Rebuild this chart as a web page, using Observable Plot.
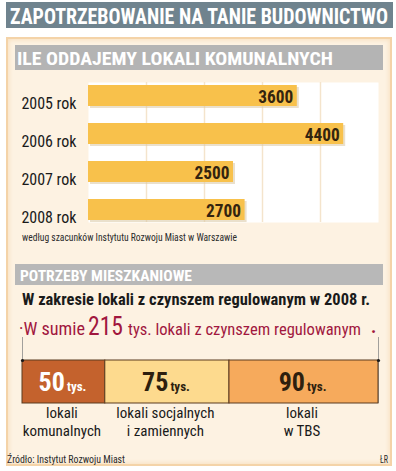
<!DOCTYPE html>
<html><head><meta charset="utf-8">
<script src="https://cdn.jsdelivr.net/npm/d3@7"></script>
<script src="https://cdn.jsdelivr.net/npm/@observablehq/plot@0.6"></script>
<style>
body{margin:0;background:#fff;}
#root{position:relative;width:396px;height:471px;overflow:hidden;}
.box{position:absolute;}
.plot{position:absolute;left:0;}
</style></head><body><div id="root"></div>
<script>
// ---- data ----
const years = ["2005 rok", "2006 rok", "2007 rok", "2008 rok"];
const built = [3600, 4400, 2500, 2700];
const gridTicks = [1000, 2000, 3000, 4000];
const needLine1 = ["lokali", "lokali socjalnych", "lokali"];
const needLine2 = ["komunalnych", "i zamiennych", "w TBS"];
const needs = [50, 75, 90];
const needTotal = 215;
const needFill = ["#c4622d", "#fdda8e", "#f6aa5c"];
const needInk = ["#ffffff", "#2e1f0e", "#2e1f0e"];

const root = document.getElementById("root");

// pick a narrow font if one is installed
function measure(family, s) {
  const c = document.createElement("canvas").getContext("2d");
  c.font = "20px " + family;
  return c.measureText(s).width;
}
const probe = "komunalnych 2005 ABCWM";
const narrowList = ["Liberation Sans Narrow", "Roboto Condensed", "DejaVu Sans Condensed", "Open Sans Condensed", "Arial Narrow"];
let NARROW = null;
for (const f of narrowList) {
  if (measure(`'${f}', monospace`, probe) !== measure("monospace", probe)) { NARROW = f; break; }
}
const FONT = NARROW ? `'${NARROW}', Roboto, sans-serif` : "Roboto, 'Open Sans', sans-serif";
root.style.fontFamily = FONT;

function box(l, t, w, h, style) {
  const d = document.createElement("div");
  d.className = "box";
  Object.assign(d.style, {left: l + "px", top: t + "px", width: w + "px", height: h + "px"}, style);
  root.appendChild(d);
  return d;
}
// background panels
box(6, 2, 387, 26, {background: "#6f838e"});
box(6, 37, 386, 429, {background: "#fdf2e2", boxShadow: "inset 0 0 0 2px #f4d3a8, inset 0 0 4px 3px #f8e0c0"});
box(15, 45, 368, 25, {background: "#b4b4b4"});
box(15, 264, 368, 21, {background: "#b8b8b8"});

// scale a group of texts so that the reference string gets the width
function condenseTo(svg, selector, refText, refWidth) {
  const list = Array.from(svg.querySelectorAll(selector));
  const ref = list.find(t => t.textContent === refText) || list[0];
  if (!ref) return;
  const f = refWidth / ref.getComputedTextLength();
  list.forEach(t => {
    const w = t.getComputedTextLength();
    t.setAttribute("textLength", (w * f).toFixed(1));
    t.setAttribute("lengthAdjust", "spacingAndGlyphs");
  });
}

// ---- chart 1: bars ----
const barData = years.map((y, i) => ({year: y, value: built[i]}));
const p1 = Plot.plot({
  width: 396, height: 160,
  marginTop: 12, marginBottom: 8, marginLeft: 88, marginRight: 18,
  style: {background: "transparent", fontFamily: FONT, color: "#1a1a1a", overflow: "visible"},
  x: {domain: [0, 5000], axis: null},
  y: {domain: years, paddingInner: 0.455, paddingOuter: 0.045, tickSize: 0, tickPadding: 12, fontSize: 16, label: null},
  marks: [
    Plot.frame({fill: "white"}),
    Plot.ruleX(gridTicks, {stroke: "#f4e4cc", strokeWidth: 1.5}),
    Plot.barX(barData, {x: "value", y: "year", fill: "#d9c6a2", fillOpacity: 0.55, dx: 2, dy: 2}),
    Plot.barX(barData, {x: "value", y: "year", fill: "#f8c14b"}),
    Plot.text(barData, {x: "value", y: "year", text: d => String(d.value), textAnchor: "end", dx: -4, dy: 1,
      fontSize: 19, fontWeight: "bold", fill: "#33240f"})
  ]
});
p1.classList.add("plot");
p1.style.top = "70px";
root.appendChild(p1);
p1.querySelectorAll('g[aria-label="y-axis tick label"] text').forEach(t => { t.setAttribute("dy", "0.5em"); t.style.fontSize = "16px"; });
condenseTo(p1, 'g[aria-label="y-axis tick label"] text', "2005 rok", 55);
condenseTo(p1, 'g[aria-label="text"] text', "3600", 35);

// ---- chart 2: stacked needs ----
const needData = needs.map((v, i) => ({value: v, fill: needFill[i], ink: needInk[i], l1: needLine1[i], l2: needLine2[i]}));
const p2 = Plot.plot({
  width: 396, height: 110,
  marginTop: 24, marginBottom: 43, marginLeft: 22, marginRight: 18,
  style: {background: "transparent", fontFamily: FONT, overflow: "visible"},
  x: {domain: [0, needTotal], axis: null},
  color: {type: "identity"},
  marks: [
    Plot.ruleX([0, needTotal], {stroke: "#8a8a8a", strokeWidth: 0.8, insetTop: -23}),
    Plot.barX(needData, Plot.stackX({x: "value", fill: "fill", stroke: "#5a3a1e", strokeWidth: 1})),
    Plot.dot([0, needTotal], {x: d => d, frameAnchor: "top", r: 1.6, fill: "#1a1a1a"}),
    Plot.text(needData, Plot.stackX({x: "value", text: d => String(d.value), textAnchor: "end", lineAnchor: "bottom",
      dx: 1, dy: 8.5, fontSize: 26, fontWeight: "bold", fill: "ink", ariaLabel: "num"})),
    Plot.text(needData, Plot.stackX({x: "value", text: () => "tys.", textAnchor: "start", lineAnchor: "bottom",
      dx: 3, dy: 8.5, fontSize: 13, fontWeight: "bold", fill: "ink", ariaLabel: "unit"})),
    Plot.text(needData, Plot.stackX({x: "value", text: "l1", frameAnchor: "bottom", dy: 14, dx: -2, fontSize: 15, fill: "#1a1a1a", ariaLabel: "line1"})),
    Plot.text(needData, Plot.stackX({x: "value", text: "l2", frameAnchor: "bottom", dy: 32, dx: -2, fontSize: 15, fill: "#1a1a1a", ariaLabel: "line2"}))
  ]
});
p2.classList.add("plot");
p2.style.top = "336px";
root.appendChild(p2);
condenseTo(p2, 'g[aria-label="num"] text', "75", 21);
condenseTo(p2, 'g[aria-label="unit"] text', "tys.", 17);
condenseTo(p2, 'g[aria-label="line1"] text', "lokali socjalnych", 96);
condenseTo(p2, 'g[aria-label="line2"] text', "komunalnych", 78);

// ---- overlay texts ----
const NS = "http://www.w3.org/2000/svg";
const ov = document.createElementNS(NS, "svg");
ov.setAttribute("width", 396); ov.setAttribute("height", 471);
Object.assign(ov.style, {position: "absolute", left: "0", top: "0", fontFamily: FONT});
root.appendChild(ov);
function txt(s, x, y, len, size, weight, fill, anchor, sy) {
  const t = document.createElementNS(NS, "text");
  t.textContent = s;
  if (sy) {
    t.setAttribute("x", 0); t.setAttribute("y", 0);
    t.setAttribute("transform", `translate(${x},${y}) scale(1,${sy})`);
  } else {
    t.setAttribute("x", x); t.setAttribute("y", y);
  }
  t.setAttribute("font-size", size);
  t.setAttribute("font-weight", weight || "normal");
  t.setAttribute("fill", fill);
  if (anchor) t.setAttribute("text-anchor", anchor);
  if (len) { t.setAttribute("textLength", len); t.setAttribute("lengthAdjust", "spacingAndGlyphs"); }
  ov.appendChild(t);
  return t;
}
txt("ZAPOTRZEBOWANIE NA TANIE BUDOWNICTWO", 199, 23.5, 378, 18.5, "bold", "#ffffff", "middle", 1.18);
txt("ILE ODDAJEMY LOKALI KOMUNALNYCH", 17, 65, 316, 18, "bold", "#ffffff");
txt("według szacunków Instytutu Rozwoju Miast w Warszawie", 22, 241, 215, 10, "normal", "#2a2a2a");
txt("POTRZEBY MIESZKANIOWE", 20, 280.5, 172, 14, "bold", "#ffffff");
txt("W zakresie lokali z czynszem regulowanym w 2008 r.", 22, 305, 348, 17, "bold", "#1a1a1a");
const RED = "#a1173e";
txt("·W sumie", 19, 335, 66, 18, "normal", RED);
txt(String(needTotal), 88, 335, 35, 26, "normal", RED);
txt("tys. lokali z czynszem regulowanym", 128, 335, 233, 17, "normal", RED);
txt(".", 371, 333, null, 18, "bold", RED);
txt("Źródło: Instytut Rozwoju Miast", 7, 463, 118, 10, "normal", "#2a2a2a");
txt("ŁR", 380, 463, 8, 10, "normal", "#2a2a2a");
</script></body></html>
